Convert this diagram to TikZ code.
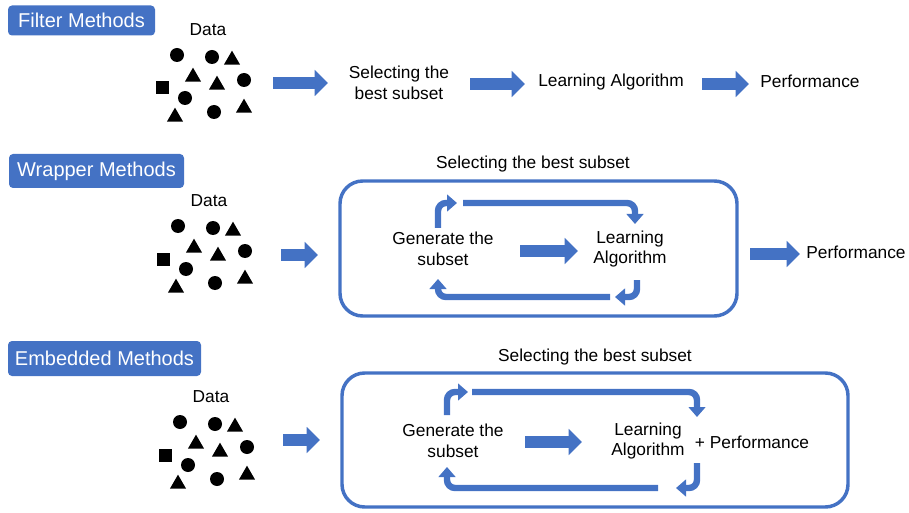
\documentclass[tikz,border=0pt]{standalone}
\usepackage{fontspec}
\setmainfont{Liberation Sans}
\usetikzlibrary{arrows.meta,shapes.geometric}
\definecolor{pblue}{HTML}{4472C4}
\tikzset{
 txt/.style={font=\fontsize{13}{15.7}\selectfont, align=center, inner sep=0pt},
 ttl/.style={fill=pblue, rounded corners=3pt, text=white, font=\fontsize{15}{18}\selectfont, inner sep=0pt},
 blk/.style={draw=pblue, line width=9pt, -{Triangle[length=10pt,width=19pt]}},
 loopar/.style={draw=pblue, line width=4.8pt, rounded corners=6pt, -{Triangle[length=7.5pt,width=12.5pt]}},
 frame/.style={draw=pblue, line width=2.6pt, rounded corners=17pt},
 dot/.style={circle, fill=black, inner sep=0pt, minimum size=10.5pt},
 sq/.style={rectangle, fill=black, inner sep=0pt, minimum size=9.75pt},
 tri/.style={regular polygon, regular polygon sides=3, fill=black, inner sep=0pt, minimum size=14pt},
}
\newcommand\datacl[3]{%
\begin{scope}[shift={(#2,#3)}]
\node[txt] (#1lab) at (208,30) {Data};
\node[dot] (#1a) at (177,55) {};
\node[dot] (#1b) at (212,57) {};
\node[tri] (#1c) at (232,60) {};
\node[tri] (#1d) at (193,77) {};
\node[tri] (#1e) at (217,85) {};
\node[dot] (#1f) at (244,80) {};
\node[sq]  (#1g) at (162,88) {};
\node[dot] (#1h) at (185,98) {};
\node[tri] (#1i) at (175,117) {};
\node[dot] (#1j) at (214,112) {};
\node[tri] (#1k) at (244,108) {};
\end{scope}}
\begin{document}
\begin{tikzpicture}[x=0.75pt,y=-0.75pt]
\useasboundingbox (0,0) rectangle (909,513);
% titles
\node[ttl, minimum width=110.25pt, minimum height=22.5pt] (tf) at (81.5,20.5) {Filter Methods};
\node[ttl, minimum width=131.25pt, minimum height=25.5pt] (tw) at (96.5,171) {Wrapper Methods};
\node[ttl, minimum width=144.75pt, minimum height=26.25pt] (te) at (104.5,358.5) {Embedded Methods};
% data clusters
\datacl{f}{0}{0}
\datacl{w}{1}{171}
\datacl{e}{3}{367}
% ---------- Filter row
\node[txt] (fsel) at (399,83) {Selecting the\\best subset};
\node[txt] (fla) at (611,82) {Learning Algorithm};
\node[txt] (fperf) at (810,81) {Performance};
\coordinate (fa1s) at (273,83); \coordinate (fa1e) at (328,83);
\coordinate (fa2s) at (470,84); \coordinate (fa2e) at (525,84);
\coordinate (fa3s) at (702,84); \coordinate (fa3e) at (749,84);
\draw[blk] (fa1s) -- (fa1e);
\draw[blk] (fa2s) -- (fa2e);
\draw[blk] (fa3s) -- (fa3e);
% ---------- Wrapper row
\node[txt] (wsl) at (533,164) {Selecting the best subset};
\node[frame, minimum width=297.75pt, minimum height=101.25pt] (wbox) at (538.5,248.5) {};
\node[txt] (wgen) at (443,249) {Generate the\\subset};
\node[txt] (wla) at (630,249) {Learning\\Algorithm};
\node[txt] (wperf) at (856,252) {Performance};
\coordinate (wa1s) at (281,255); \coordinate (wa1e) at (318,255);
\coordinate (wa2s) at (520,251); \coordinate (wa2e) at (578,251);
\coordinate (wa3s) at (750,254); \coordinate (wa3e) at (800,254);
\draw[blk] (wa1s) -- (wa1e);
\draw[blk] (wa2s) -- (wa2e);
\draw[blk] (wa3s) -- (wa3e);
\coordinate (wc1s) at (438,228); \coordinate (wc1e) at (457,203);
\coordinate (wc2s) at (463,203); \coordinate (wc2e) at (635,224);
\coordinate (wc3s) at (637,280); \coordinate (wc3e) at (615,297);
\coordinate (wc4s) at (610,297); \coordinate (wc4e) at (438,279);
\draw[loopar] (wc1s) |- (wc1e);
\draw[loopar] (wc2s) -| (wc2e);
\draw[loopar] (wc3s) |- (wc3e);
\draw[loopar] (wc4s) -| (wc4e);
% ---------- Embedded row
\node[txt] (esl) at (595,357) {Selecting the best subset};
\node[frame, minimum width=379.5pt, minimum height=100.5pt] (ebox) at (595,440) {};
\node[txt] (egen) at (453,441) {Generate the\\subset};
\node[txt] (ela) at (648,441) {Learning\\Algorithm};
\node[txt] (eperf) at (752,442) {+ Performance};
\coordinate (ea1s) at (283,440); \coordinate (ea1e) at (320,440);
\coordinate (ea2s) at (525,442); \coordinate (ea2e) at (582,442);
\draw[blk] (ea1s) -- (ea1e);
\draw[blk] (ea2s) -- (ea2e);
\coordinate (ec1s) at (447,415); \coordinate (ec1e) at (468,392);
\coordinate (ec2s) at (472,392); \coordinate (ec2e) at (697,417);
\coordinate (ec3s) at (697,463); \coordinate (ec3e) at (676,488);
\coordinate (ec4s) at (658,488); \coordinate (ec4e) at (447,467);
\draw[loopar] (ec1s) |- (ec1e);
\draw[loopar] (ec2s) -| (ec2e);
\draw[loopar] (ec3s) |- (ec3e);
\draw[loopar] (ec4s) -| (ec4e);
\end{tikzpicture}
\end{document}
